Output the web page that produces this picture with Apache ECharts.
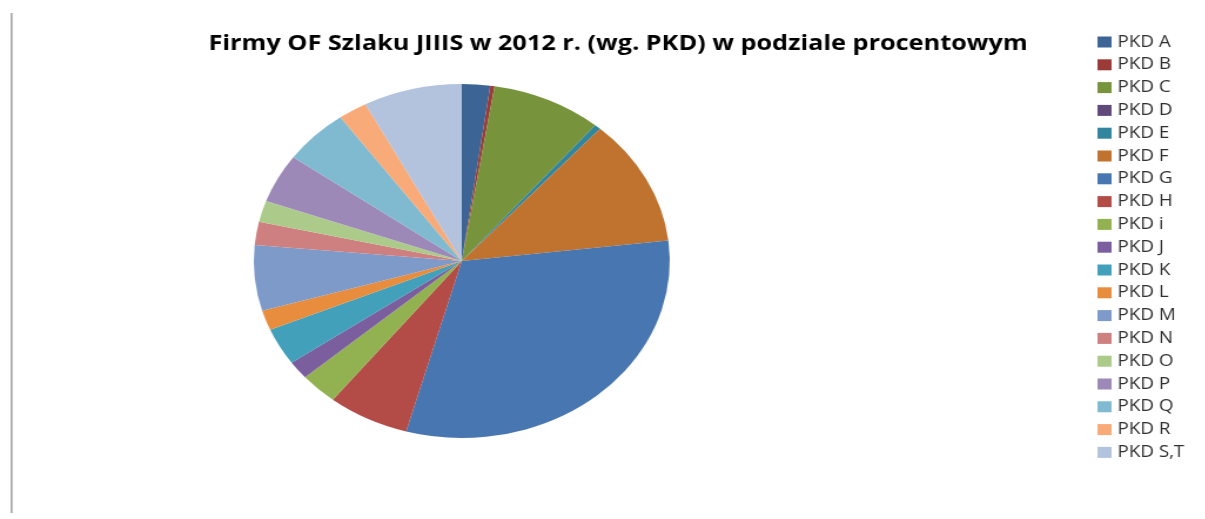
<!DOCTYPE html>
<html>
<head>
<meta charset="utf-8">
<script src="https://cdn.jsdelivr.net/npm/echarts@6/dist/echarts.min.js"></script>
<style>
    html, body { margin: 0; padding: 0; background: #fff; }
    #wrap { position: relative; width: 1205px; height: 519px; overflow: hidden; }
    /* the original picture is stretched sideways, so the whole chart is too */
    #chart { position: absolute; left: 0; top: 0; width: 1026px; height: 519px;
        transform: scaleX(1.175); transform-origin: 0 0; }
</style>
</head>
<body>
<div id="wrap">
    <div id="chart"></div>
</div>
<script>
const titleText = 'Firmy OF Szlaku JIIIS w 2012 r. (wg. PKD) w podziale procentowym'
const categories = ['PKD A', 'PKD B', 'PKD C', 'PKD D', 'PKD E', 'PKD F', 'PKD G', 'PKD H', 'PKD i', 'PKD J',
    'PKD K', 'PKD L', 'PKD M', 'PKD N', 'PKD O', 'PKD P', 'PKD Q', 'PKD R', 'PKD S,T']
// percent share
const shares = [2.19, 0.33, 8.56, 0, 0.5, 11.56, 31.17, 6.33, 2.94, 1.67,
    3.39, 1.83, 5.97, 2.11, 1.94, 4.47, 5.11, 2.25, 7.67]
const colors = ['#3c6596', '#9b3b38', '#77933c', '#5f4a7b', '#31859c', '#c0722f', '#4876b0', '#b34c47', '#92b150', '#7a5e9e',
    '#43a0ba', '#e88d3e', '#7d9ac9', '#ce7f7f', '#accb8a', '#9d89b8', '#7fbad0', '#f8aa78', '#b3c3de']

const chart = echarts.init(document.getElementById('chart'))
chart.setOption({
    animation: false,
    color: colors,
    title: {
        text: titleText,
        left: 521,
        textAlign: 'center',
        top: 28,
        textStyle: {
            fontFamily: 'Open Sans',
            fontWeight: 'bold',
            fontSize: 21.5,
            color: '#000',
        },
    },
    legend: {
        orient: 'vertical',
        left: 929,
        top: 29,
        icon: 'rect',
        itemWidth: 12,
        itemHeight: 11,
        itemGap: 6.8,
        data: categories,
        textStyle: {
            fontFamily: 'Open Sans',
            fontSize: 16,
            lineHeight: 16,
            color: '#303030',
        },
    },
    graphic: [
        {
            type: 'line',
            shape: { x1: 9.8, y1: 13, x2: 9.8, y2: 513 },
            style: { stroke: '#a6a6a6', lineWidth: 1.7 },
        },
    ],
    series: [
        {
            type: 'pie',
            center: [393, 261],
            radius: [0, 177],
            startAngle: 90,
            clockwise: true,
            label: { show: false },
            labelLine: { show: false },
            itemStyle: { borderWidth: 0 },
            emphasis: { disabled: true },
            data: categories.map((name, i) => ({ name: name, value: shares[i] })),
        },
    ],
})
</script>
</body>
</html>
